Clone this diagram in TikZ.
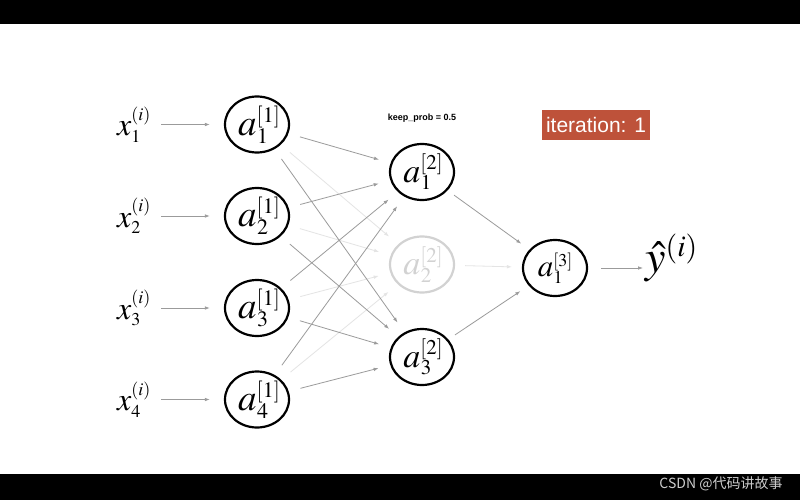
\documentclass[tikz,border=0pt]{standalone}
\usepackage{mathptmx}
\usepackage[no-math]{fontspec}
\newfontfamily\lsans{Liberation Sans}
\newfontfamily\cjk{Noto Sans CJK SC}
\DeclareMathSizes{32}{32}{18}{13}
\DeclareMathSizes{46}{46}{30}{20}
\usetikzlibrary{arrows.meta,shapes.geometric}
\definecolor{conndark}{RGB}{155,155,155}
\definecolor{connlight}{RGB}{228,228,228}
\definecolor{dropgray}{RGB}{210,210,210}
\definecolor{iterred}{RGB}{190,82,58}
% neuron label: #1 base size, #2 script size, #3 superscript, #4 subscript
\newcommand{\nlab}[4]{%
  \fontsize{#1}{#1}\selectfont$a$%
  \fontsize{#2}{#2}\selectfont
  \rlap{\kern0.02em\raisebox{-0.36em}{$#4$}}%
  \raisebox{0.6em}{$#3$}}
\tikzset{
  neuron/.style={ellipse, draw=black, line width=2.2pt, minimum width=64pt, minimum height=56pt, inner sep=0pt},
  dropneuron/.style={neuron, draw=dropgray},
  lbl/.style={inner sep=0pt},
  conn/.style={draw=conndark, line width=0.8pt, -{Latex[length=5pt,width=3.6pt]}},
  connlt/.style={draw=connlight, line width=0.8pt, -{Latex[length=5pt,width=3.6pt]}},
}
\begin{document}
\begin{tikzpicture}[x=1pt,y=-1pt]
\useasboundingbox (0,0) rectangle (800,500);
\fill[white] (0,0) rectangle (800,500);
\fill[black] (0,0) rectangle (800,24);
\fill[black] (0,474) rectangle (800,500);

% input labels and first layer
\foreach \i/\y in {1/124.5,2/216,3/308,4/399.5}{
  \node[lbl] (x\i) at (134,\y) {\fontsize{32}{34}\selectfont $x^{(i)}_{\i}$};
  \node[neuron] (h\i) at (257,\y) {};
  \node[lbl] (h\i t) at (259,\y) {\nlab{37}{22}{[1]}{\i}};
}
% hidden layer 2
\node[neuron] (m1) at (422,172) {};
\node[lbl] (m1t) at (423,172) {\nlab{34}{21}{[2]}{1}};
\node[dropneuron] (m2) at (422,264.5) {};
\node[lbl, text=dropgray] (m2t) at (423,264.5) {\nlab{34}{21}{[2]}{2}};
\node[neuron] (m3) at (422,357) {};
\node[lbl] (m3t) at (423,357) {\nlab{34}{21}{[2]}{3}};
% output neuron
\node[neuron] (o) at (555,268) {};
\node[lbl] (ot) at (555,268) {\nlab{31}{18}{[3]}{1}};
\node[lbl, anchor=west] (yhat) at (645,258) {\fontsize{46}{48}\selectfont $\hat{y}^{(i)}$};

% labels
\node[lbl] (kp) at (422,118) {\lsans\bfseries\fontsize{9}{10}\selectfont keep\_prob = 0.5};
\node[fill=iterred, text=white, minimum width=108pt, minimum height=30pt, inner sep=0pt] (iter) at (596,125)
  {\lsans\fontsize{21}{22}\selectfont iteration: 1};
\node[lbl, text=black!20] (wm) at (721,484) {\cjk\fontsize{14}{15}\selectfont CSDN @代码讲故事};

% input arrows
\foreach \i in {1,...,4}{
  \draw[conn, shorten <=10pt, shorten >=14pt] (x\i) -- (h\i);
}
% dropped connections
\foreach \i in {1,...,4}{
  \draw[connlt, shorten <=12pt, shorten >=12pt] (h\i) -- (m2);
}
\draw[connlt, shorten <=10pt, shorten >=10pt] (m2) -- (o);
% active connections
\foreach \i in {1,...,4}{
  \draw[conn, shorten <=12pt, shorten >=12pt] (h\i) -- (m1);
  \draw[conn, shorten <=12pt, shorten >=12pt] (h\i) -- (m3);
}
\draw[conn, shorten <=8pt, shorten >=10pt] (m1) -- (o);
\draw[conn, shorten <=8pt, shorten >=10pt] (m3) -- (o);
\draw[conn, shorten <=13pt, shorten >=2pt] (o) -- (o -| yhat.west);
\end{tikzpicture}
\end{document}
